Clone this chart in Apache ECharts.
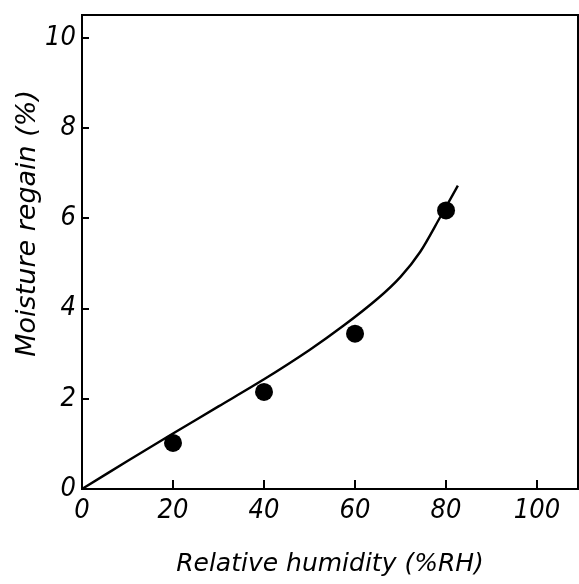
<!DOCTYPE html>
<html>
<head>
<meta charset="utf-8">
<script src="https://cdn.jsdelivr.net/npm/echarts@6/dist/echarts.min.js"></script>
<style>
html,body{margin:0;padding:0;background:#fff;}
#c{width:579px;height:584px;}
</style>
</head>
<body>
<div id="c"></div>
<script>
var measuredRH = [20, 40, 60, 80];
var measuredRegain = [1.02, 2.15, 3.44, 6.17];
var curveRH = [0, 10, 20, 30, 40, 50, 57.5, 65, 70, 74.3, 78.7, 82.6];
var curveRegain = [0, 0.62, 1.23, 1.83, 2.43, 3.08, 3.62, 4.22, 4.70, 5.25, 6.02, 6.72];
var xTitle = 'Relative humidity (%RH)';
var yTitle = 'Moisture regain (%)';

var FONT = "'DejaVu Sans Condensed', 'Liberation Sans Narrow', 'DejaVu Sans', sans-serif";
var TFONT = "'DejaVu Sans', sans-serif";

var chart = echarts.init(document.getElementById('c'));
var scatterData = measuredRH.map(function (x, i) { return [x, measuredRegain[i]]; });
var curveData = curveRH.map(function (x, i) { return [x, curveRegain[i]]; });

chart.setOption({
  animation: false,
  backgroundColor: '#fff',
  grid: { left: 82, top: 15, right: 1, bottom: 95, show: true, borderColor: '#000', borderWidth: 2 },
  xAxis: {
    type: 'value', min: 0, max: 109, interval: 20,
    name: xTitle, nameLocation: 'middle', nameGap: 63,
    nameTextStyle: { fontFamily: TFONT, fontStyle: 'italic', fontSize: 25, color: '#000' },
    axisLine: { show: true, lineStyle: { color: '#000', width: 2 } },
    axisTick: { show: true, inside: true, length: 9, lineStyle: { color: '#000', width: 2 } },
    axisLabel: { showMaxLabel: false, margin: 8, fontFamily: FONT, fontStyle: 'italic', fontSize: 27, color: '#000' },
    splitLine: { show: false }
  },
  yAxis: {
    type: 'value', min: 0, max: 10.5, interval: 2,
    axisLine: { show: true, lineStyle: { color: '#000', width: 2 } },
    axisTick: { show: true, inside: true, length: 7, lineStyle: { color: '#000', width: 2 } },
    axisLabel: { showMaxLabel: false, margin: 6, fontFamily: FONT, fontStyle: 'italic', fontSize: 27, color: '#000' },
    splitLine: { show: false }
  },
  graphic: [{
    type: 'text', left: 14, top: 90,
    rotation: Math.PI / 2,
    style: { text: yTitle, font: 'italic 27px ' + TFONT, fill: '#000' }
  }],
  series: [
    {
      type: 'line', data: curveData, smooth: 0.3, showSymbol: false,
      lineStyle: { color: '#000', width: 2.4 }, z: 2
    },
    {
      type: 'scatter', data: scatterData, symbol: 'circle', symbolSize: 18,
      itemStyle: { color: '#000', opacity: 1 }, z: 3
    }
  ]
});
</script>
</body>
</html>
